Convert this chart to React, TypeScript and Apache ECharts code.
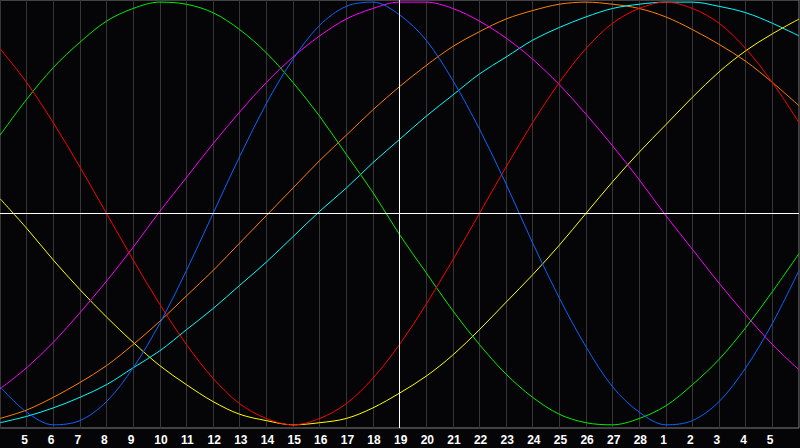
import React, { useEffect, useRef } from "react";
import * as echarts from "echarts";

// Days shown on the axis (Feb 4 .. Mar 6, counted continuously; 29 = Mar 1)
const days = [4, 5, 6, 7, 8, 9, 10, 11, 12, 13, 14, 15, 16, 17, 18, 19, 20, 21, 22, 23, 24, 25, 26, 27, 28, 29, 30, 31, 32, 33, 34];
const tickLabels = ["", "5", "6", "7", "8", "9", "10", "11", "12", "13", "14", "15", "16", "17", "18", "19", "20", "21", "22", "23", "24", "25", "26", "27", "28", "1", "2", "3", "4", "5", ""];

const physical = [-82, -94, -100, -98, -89, -73, -52, -27, 0, 27, 52, 73, 89, 98, 100, 94, 82, 63, 40, 14, -14, -40, -63, -82, -94, -100, -98, -89, -73, -52, -27];
const emotional = [78, 62, 43, 22, 0, -22, -43, -62, -78, -90, -97, -100, -97, -90, -78, -62, -43, -22, 0, 22, 43, 62, 78, 90, 97, 100, 97, 90, 78, 62, 43];
const intellectual = [37, 54, 69, 81, 91, 97, 100, 99, 95, 87, 76, 62, 46, 28, 10, -10, -28, -46, -62, -76, -87, -95, -99, -100, -97, -91, -81, -69, -54, -37, -19];
const intuitive = [-83, -73, -61, -47, -32, -16, 1, 17, 33, 48, 62, 74, 84, 92, 97, 100, 100, 97, 91, 83, 73, 61, 47, 32, 16, -1, -17, -33, -48, -62, -74];
const aesthetic = [7, -7, -22, -36, -49, -61, -72, -81, -89, -95, -98, -100, -99, -97, -92, -85, -77, -67, -55, -42, -29, -15, 0, 15, 29, 42, 55, 67, 77, 85, 92];
const awareness = [-97, -93, -87, -80, -72, -62, -51, -39, -27, -14, -1, 12, 25, 37, 49, 60, 70, 79, 86, 92, 96, 99, 100, 99, 97, 93, 87, 80, 72, 62, 51];
const spiritual = [-99, -96, -92, -87, -81, -73, -65, -55, -45, -34, -23, -11, 1, 12, 24, 35, 46, 56, 66, 74, 82, 88, 93, 97, 99, 100, 100, 98, 95, 90, 84];

const today = 19;

const curves = [
  { name: "Aesthetic", data: aesthetic, color: "#ffff00" },
  { name: "Awareness", data: awareness, color: "#ff8000" },
  { name: "Spiritual", data: spiritual, color: "#00ffff" },
  { name: "Intuitive", data: intuitive, color: "#ff00ff" },
  { name: "Intellectual", data: intellectual, color: "#00ee00" },
  { name: "Emotional", data: emotional, color: "#ff0000" },
  { name: "Physical", data: physical, color: "#0a64ff" },
];

export default function App() {
  const ref = useRef<HTMLDivElement>(null);
  useEffect(() => {
    if (!ref.current) return;
    const chart = echarts.init(ref.current, undefined, { renderer: "svg" });
    const series: any[] = curves.map((c) => ({
      type: "line",
      name: c.name,
      data: days.map((d, i) => [d, c.data[i]]),
      smooth: 0.33,
      showSymbol: false,
      symbol: "none",
      lineStyle: { color: c.color, width: 1 },
      itemStyle: { color: c.color },
      z: 3,
    }));
    series.push({
      type: "line",
      data: [],
      z: 2,
      markLine: {
        silent: true,
        symbol: "none",
        label: { show: false },
        lineStyle: { color: "#ffffff", width: 1, type: "solid" },
        data: [{ xAxis: today }, { yAxis: 0 }],
      },
    });
    chart.setOption({
      animation: false,
      backgroundColor: "#050508",
      grid: {
        left: 0,
        right: 1,
        top: 0,
        bottom: 20,
        show: true,
        borderColor: "#808080",
        borderWidth: 1,
        backgroundColor: "#050508",
      },
      xAxis: {
        type: "value",
        min: 4,
        max: 34,
        interval: 1,
        axisLine: { show: false },
        axisTick: { show: false },
        splitLine: { show: true, lineStyle: { color: "#363636", width: 1 } },
        axisLabel: {
          margin: 6,
          showMinLabel: false,
          showMaxLabel: false,
          formatter: (v: number) => {
            const lab = tickLabels[days.indexOf(v)];
            return lab ? `{d|${lab}}` : "";
          },
          rich: {
            d: {
              width: 11,
              align: "left",
              color: "#ffffff",
              fontWeight: "bold",
              fontSize: 12,
              fontFamily: "Liberation Sans, Arial, sans-serif",
            },
          },
        },
      },
      yAxis: {
        type: "value",
        min: -101.5,
        max: 101,
        show: false,
        splitLine: { show: false },
      },
      series,
    });
    return () => chart.dispose();
  }, []);
  return (
    <div
      ref={ref}
      style={{ position: "fixed", left: 0, top: 0, width: 800, height: 448, background: "#050508" }}
    />
  );
}
